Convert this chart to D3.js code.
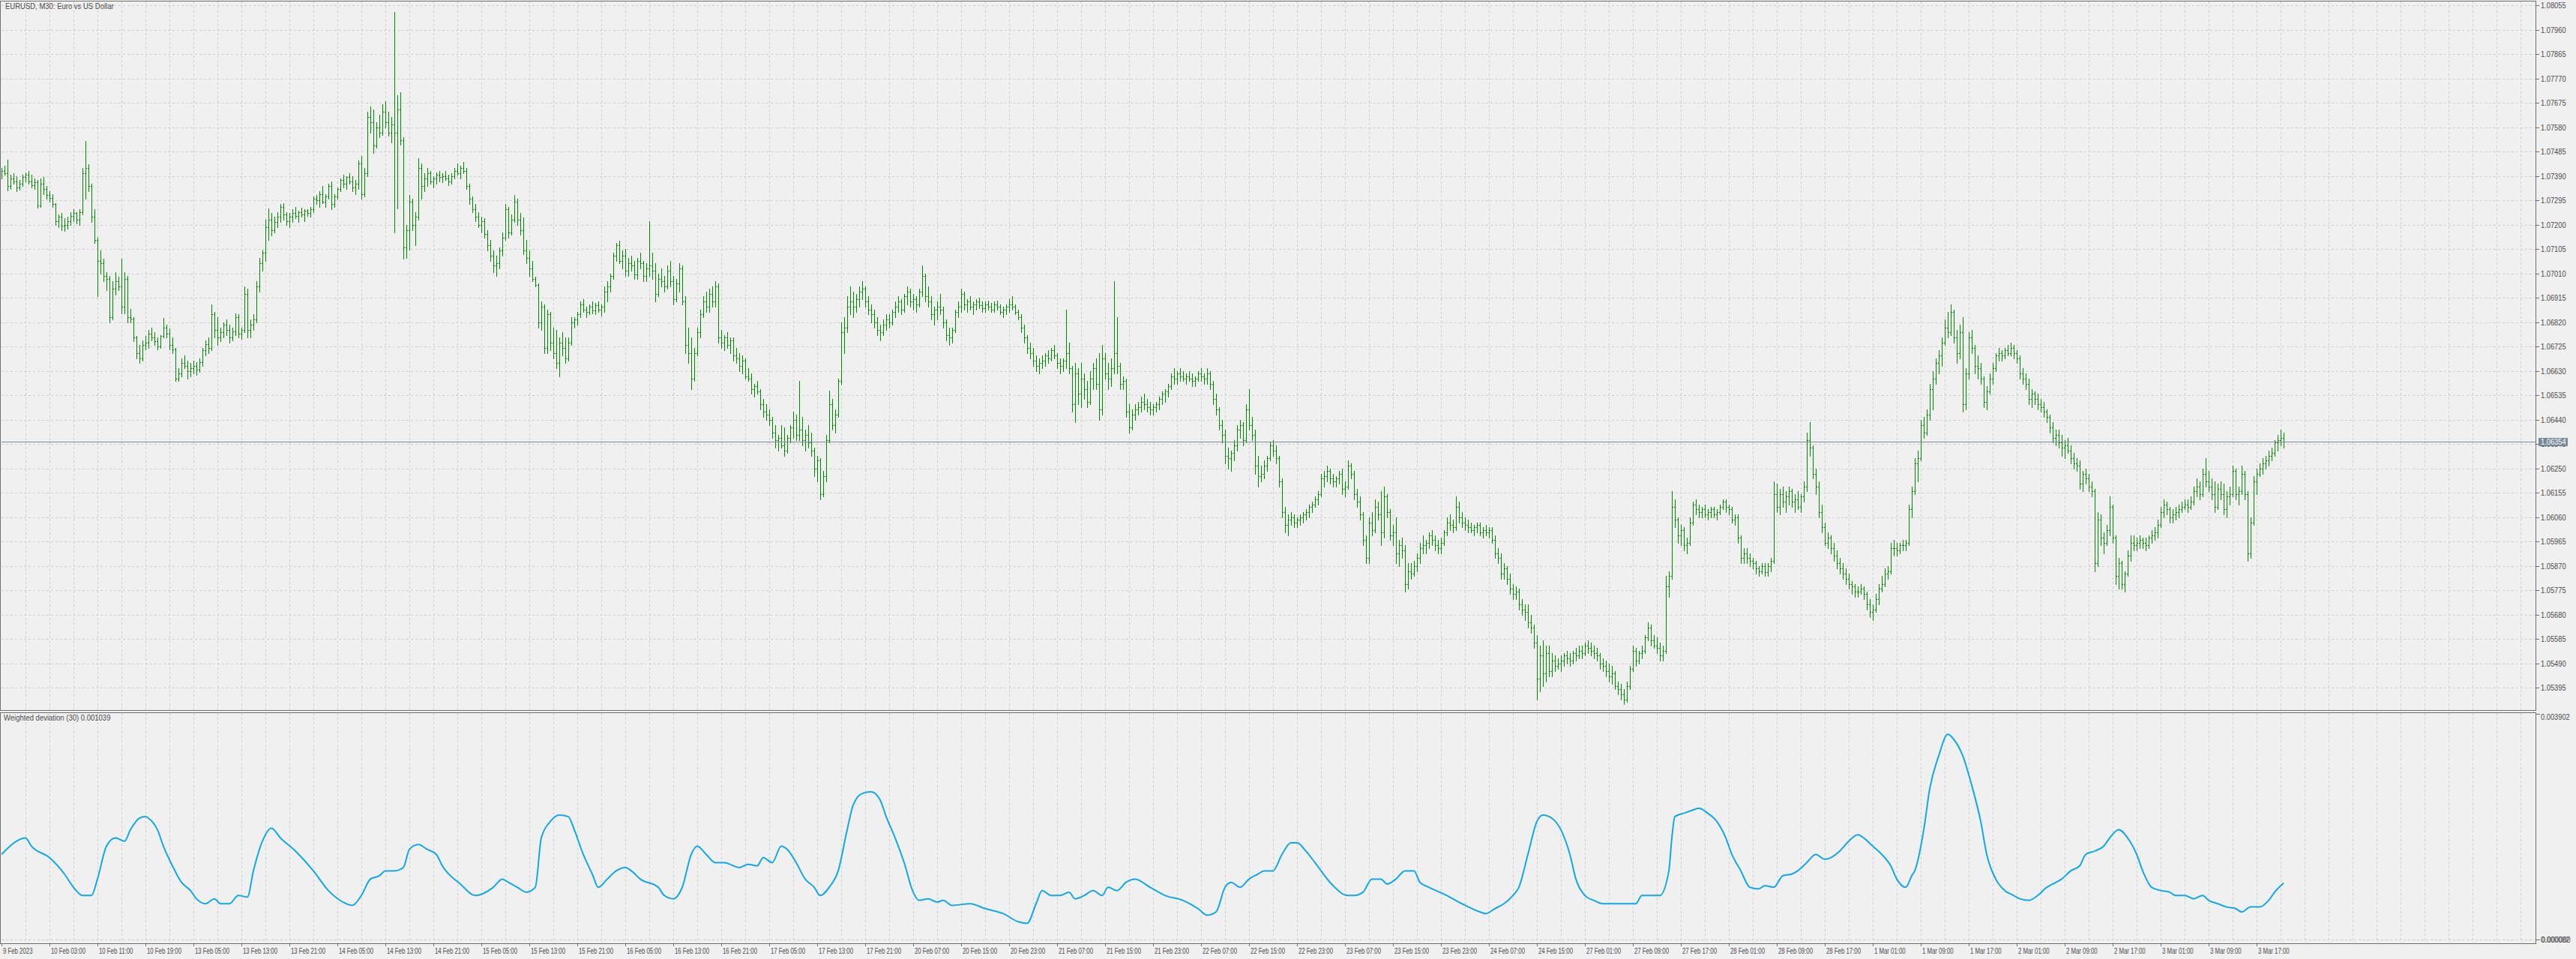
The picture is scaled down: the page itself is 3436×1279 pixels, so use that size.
<!DOCTYPE html>
<html><head><meta charset="utf-8">
<script src="https://cdn.jsdelivr.net/npm/d3@7"></script>
<style>html,body{margin:0;padding:0;background:#f0f0f0;overflow:hidden}svg{display:block}text{font-family:"Liberation Sans",Arial,sans-serif}</style>
</head><body>
<svg id="c" width="3436" height="1279"></svg>
<script>
// ---- DATA (prices in points: 1 + v/100000) ----
const chartTitle = "EURUSD, M30:  Euro vs US Dollar";
const indicatorTitle = "Weighted deviation (30) 0.001039";
const lastPrice = 1.06354;
const opens = [7395,
7410,7400,7350,7380,7370,7345,7360,7385,7395,7370,7355,7365,7275,7360,7340,7315,7305,7280,7215,7230,
7195,7200,7215,7235,7245,7220,7250,7400,7420,7350,7230,7140,7060,7050,7000,6990,6840,6950,6980,6960,
6880,6990,6840,6835,6760,6700,6680,6730,6740,6775,6760,6745,6725,6765,6800,6775,6730,6715,6600,6620,
6660,6650,6630,6640,6650,6635,6665,6710,6735,6720,6850,6790,6760,6780,6810,6790,6760,6785,6840,6775,
6790,6930,6790,6810,6830,6960,7050,7090,7190,7220,7180,7210,7230,7270,7240,7215,7230,7245,7235,7250,
7240,7255,7245,7260,7300,7295,7320,7290,7310,7350,7280,7310,7340,7375,7360,7385,7370,7345,7360,7440,
7320,7400,7620,7600,7510,7580,7560,7640,7600,7560,7590,7560,7650,7530,7110,7180,7290,7200,7230,7420,
7350,7380,7400,7370,7380,7395,7385,7390,7380,7370,7390,7410,7400,7420,7410,7350,7300,7260,7230,7200,
7215,7165,7120,7080,7040,7050,7100,7150,7260,7170,7220,7290,7220,7180,7100,7070,7030,6990,6965,6820,
6880,6720,6850,6740,6700,6660,6740,6720,6680,6740,6820,6830,6850,6890,6870,6860,6880,6865,6885,6870,
6880,6940,6960,7000,7080,7120,7060,7080,7020,7050,7040,7005,7060,7050,7000,7030,7040,7020,6930,6990,
6980,6960,7020,6980,6910,6970,7030,6900,6730,6700,6600,6700,6780,6850,6900,6880,6930,6900,6960,6760,
6740,6760,6730,6750,6690,6680,6650,6670,6610,6600,6560,6570,6550,6500,6470,6460,6440,6390,6360,6370,
6340,6320,6370,6410,6440,6380,6400,6360,6380,6350,6320,6250,6280,6150,6220,6360,6500,6420,6460,6590,
6780,6800,6880,6900,6880,6910,6940,6950,6900,6870,6850,6820,6790,6780,6810,6830,6820,6860,6880,6900,
6870,6920,6940,6900,6910,6890,6940,7000,6920,6900,6850,6870,6880,6870,6820,6770,6760,6790,6860,6880,
6930,6890,6900,6880,6890,6900,6885,6875,6890,6880,6870,6890,6880,6860,6870,6880,6890,6880,6860,6840,
6800,6760,6720,6700,6670,6650,6660,6670,6690,6680,6710,6690,6660,6650,6670,6700,6640,6500,6620,6540,
6600,6560,6510,6600,6640,6580,6480,6680,6620,6600,6640,6700,6650,6580,6590,6470,6410,6460,6480,6490,
6510,6500,6490,6480,6490,6500,6520,6540,6550,6570,6610,6600,6620,6610,6600,6610,6600,6590,6600,6620,
6610,6600,6620,6580,6520,6480,6420,6380,6300,6290,6310,6340,6400,6420,6360,6480,6420,6380,6260,6220,
6230,6260,6290,6340,6320,6290,6200,6080,6030,6050,6060,6040,6050,6060,6070,6080,6100,6110,6130,6150,
6210,6220,6240,6210,6200,6210,6230,6170,6180,6260,6230,6150,6120,6070,5970,5900,6040,6010,6100,6070,
6000,6140,6080,5990,6000,5920,5950,5930,5800,5850,5840,5870,5900,5940,5950,5960,5990,5970,5950,5940,
5960,6000,6040,6030,6020,6100,6060,6040,6030,6020,6010,6020,6030,6000,6010,6000,6010,5970,5920,5900,
5840,5860,5820,5780,5760,5770,5720,5700,5690,5650,5630,5570,5430,5520,5450,5530,5460,5500,5480,5490,
5500,5520,5510,5500,5530,5520,5540,5530,5560,5550,5540,5530,5520,5490,5480,5460,5440,5450,5400,5390,
5370,5350,5400,5470,5540,5500,5530,5540,5590,5630,5580,5560,5550,5520,5540,5790,5830,6100,6050,5990,
6010,5950,5960,6040,6110,6090,6080,6090,6070,6080,6090,6070,6080,6100,6120,6100,6090,6050,6060,5980,
5900,5920,5900,5890,5880,5860,5850,5870,5845,5870,5890,6150,6100,6150,6120,6140,6160,6120,6130,6100,
6140,6180,6360,6330,6230,6180,6080,6020,5960,5980,5940,5910,5880,5860,5840,5820,5800,5790,5770,5770,
5780,5760,5720,5690,5700,5740,5780,5800,5840,5850,5940,5940,5930,5950,5950,5960,6090,6160,6270,6290,
6420,6390,6460,6560,6600,6660,6690,6740,6800,6780,6860,6760,6700,6780,6500,6620,6760,6720,6650,6640,
6600,6510,6550,6600,6640,6690,6700,6690,6710,6700,6720,6700,6680,6620,6600,6580,6520,6540,6520,6500,
6490,6470,6450,6410,6370,6380,6350,6330,6340,6320,6290,6270,6260,6190,6230,6210,6180,6160,5880,6050,
5980,5960,6010,6100,5980,5830,5880,5800,5840,5910,5960,5950,5960,5970,5960,5950,5980,5990,6000,6030,
6080,6110,6090,6060,6070,6080,6090,6100,6110,6100,6120,6160,6180,6150,6230,6200,6180,6150,6100,6170,
6150,6090,6140,6150,6240,6150,6160,6230,6150,5920,6040,6200,6230,6250,6270,6280,6300,6310,6350,6360,
6370];
const highs = [
7420,7430,7454,7395,7400,7390,7375,7395,7405,7410,7395,7380,7375,7380,7385,7350,7330,7320,7285,7240,
7245,7225,7230,7250,7260,7250,7260,7420,7525,7435,7360,7260,7150,7100,7068,7015,7000,6980,7015,6997,
7068,7015,7000,6873,6840,6767,6731,6749,6767,6790,6800,6780,6760,6770,6838,6810,6795,6760,6720,6640,
6680,6690,6670,6660,6670,6665,6680,6720,6750,6760,6890,6860,6840,6800,6820,6830,6810,6800,6855,6850,
6800,6960,6950,6830,6850,6980,7070,7100,7220,7263,7245,7230,7250,7280,7285,7250,7245,7260,7270,7255,
7265,7260,7260,7270,7310,7315,7330,7350,7320,7360,7370,7320,7345,7380,7395,7390,7400,7390,7375,7450,
7467,7420,7640,7661,7650,7600,7630,7670,7680,7640,7620,8030,7706,7715,7540,7200,7316,7300,7250,7458,
7440,7400,7420,7410,7390,7405,7410,7400,7410,7395,7400,7420,7440,7430,7445,7420,7360,7310,7280,7250,
7230,7225,7180,7140,7100,7080,7110,7170,7281,7270,7240,7316,7300,7245,7227,7140,7100,7060,6997,6970,
6900,6890,6870,6860,6800,6790,6760,6780,6760,6760,6840,6840,6860,6900,6910,6880,6890,6900,6895,6900,
6890,6960,6980,7010,7090,7130,7139,7100,7105,7070,7080,7060,7070,7090,7060,7050,7215,7090,7050,7010,
7030,7000,7040,7060,7000,6990,7050,7040,6920,6800,6760,6720,6800,6870,6920,6940,6950,6960,6980,6970,
6790,6770,6780,6760,6760,6720,6700,6690,6680,6640,6620,6580,6590,6560,6520,6500,6480,6450,6420,6380,
6420,6410,6380,6420,6470,6460,6590,6450,6400,6420,6390,6330,6300,6290,6240,6380,6554,6520,6480,6600,
6820,6840,6920,6960,6940,6930,6960,6980,6960,6920,6890,6870,6840,6810,6830,6850,6850,6870,6900,6920,
6910,6930,6960,6950,6930,6920,6950,7040,7010,6960,6920,6880,6900,6930,6880,6830,6800,6800,6870,6900,
6950,6940,6910,6920,6900,6910,6915,6900,6900,6905,6895,6900,6905,6890,6880,6890,6910,6920,6890,6870,
6850,6810,6770,6740,6720,6690,6680,6690,6700,6710,6720,6730,6700,6680,6680,6870,6740,6650,6660,6640,
6660,6620,6590,6630,6660,6680,6700,6730,6700,6660,6680,6980,6840,6660,6610,6600,6500,6480,6500,6510,
6530,6540,6520,6510,6500,6510,6530,6550,6560,6580,6620,6640,6630,6640,6630,6620,6630,6620,6610,6630,
6640,6620,6640,6630,6590,6540,6490,6440,6400,6330,6320,6360,6420,6440,6430,6500,6560,6450,6400,6300,
6260,6280,6300,6350,6360,6340,6300,6210,6100,6070,6080,6070,6060,6070,6080,6090,6110,6120,6140,6160,
6230,6240,6260,6250,6230,6220,6240,6250,6200,6280,6270,6240,6170,6140,6080,5990,6060,6080,6130,6120,
6160,6180,6150,6090,6030,6060,5970,5980,5950,5880,5880,5890,5920,5960,5990,5970,6000,6010,5990,5970,
5980,6010,6060,6070,6050,6140,6120,6080,6060,6050,6040,6030,6040,6040,6020,6030,6020,6020,5990,5940,
5920,5880,5870,5840,5800,5790,5780,5740,5720,5720,5680,5640,5600,5560,5580,5560,5560,5530,5520,5510,
5520,5530,5540,5530,5540,5550,5560,5560,5570,5580,5570,5560,5550,5530,5510,5500,5490,5480,5460,5420,
5410,5390,5420,5480,5560,5550,5540,5560,5600,5650,5640,5600,5590,5570,5560,5830,5850,6160,6130,6060,
6030,6020,5980,6060,6120,6130,6110,6100,6110,6090,6100,6100,6090,6110,6130,6130,6110,6100,6070,6070,
5990,5940,5940,5920,5900,5890,5870,5880,5880,5880,5900,6200,6190,6170,6180,6160,6180,6170,6150,6160,
6150,6200,6390,6430,6340,6250,6200,6110,6040,6000,5990,5960,5930,5900,5880,5860,5840,5810,5800,5790,
5800,5790,5770,5740,5720,5760,5800,5830,5860,5870,5960,5970,5960,5960,5970,5970,6110,6180,6290,6320,
6440,6450,6480,6580,6630,6680,6710,6760,6830,6860,6890,6870,6790,6810,6840,6640,6780,6790,6730,6690,
6660,6610,6570,6620,6660,6700,6720,6710,6720,6730,6740,6730,6710,6690,6640,6620,6600,6560,6550,6540,
6520,6510,6480,6460,6430,6400,6400,6380,6360,6370,6340,6310,6290,6280,6240,6250,6230,6200,6170,6080,
6070,6000,6030,6140,6110,5990,5900,5890,5850,5930,5990,5990,5980,5990,5980,5980,5990,6010,6020,6050,
6100,6130,6120,6100,6090,6100,6110,6120,6130,6130,6140,6180,6210,6200,6250,6290,6240,6210,6200,6190,
6200,6190,6160,6180,6260,6250,6180,6260,6240,6160,6060,6220,6250,6270,6290,6300,6320,6330,6360,6380,
6400,6390];
const lows = [
7380,7395,7334,7340,7360,7330,7335,7350,7370,7360,7345,7340,7265,7270,7320,7300,7290,7270,7200,7190,
7180,7175,7185,7200,7215,7205,7200,7240,7300,7330,7210,7130,6920,7010,6980,6944,6820,6830,6926,6944,
6855,6855,6820,6820,6745,6678,6660,6670,6714,6720,6750,6730,6715,6720,6760,6760,6714,6700,6590,6590,
6610,6640,6600,6610,6620,6615,6625,6650,6690,6700,6710,6760,6730,6745,6760,6770,6740,6750,6770,6760,
6755,6780,6760,6760,6790,6820,6940,7020,7060,7140,7157,7170,7190,7210,7220,7200,7190,7210,7225,7210,
7230,7215,7235,7230,7250,7280,7270,7285,7270,7300,7260,7270,7300,7330,7345,7340,7360,7330,7320,7340,
7300,7310,7390,7560,7480,7500,7540,7550,7580,7546,7520,7171,7263,7511,7068,7070,7103,7180,7120,7220,
7300,7330,7350,7360,7345,7360,7370,7365,7375,7355,7360,7380,7395,7380,7400,7340,7280,7250,7215,7190,
7170,7150,7100,7060,7015,7000,7030,7080,7140,7150,7160,7210,7200,7160,7086,7050,7000,6980,6960,6800,
6790,6700,6700,6710,6680,6640,6610,6690,6660,6670,6730,6800,6810,6840,6860,6840,6850,6855,6850,6860,
6845,6860,6900,6940,6990,7060,7050,7030,7000,7000,7020,6990,6990,7030,6980,6980,7000,6990,6900,6920,
6960,6940,6950,6960,6890,6900,6940,6890,6700,6660,6560,6590,6690,6760,6840,6860,6860,6880,6880,6740,
6720,6710,6720,6700,6670,6660,6630,6620,6600,6590,6540,6530,6540,6480,6450,6440,6420,6370,6330,6320,
6330,6300,6310,6350,6370,6360,6360,6340,6320,6330,6300,6220,6200,6129,6140,6200,6350,6400,6390,6450,
6580,6700,6780,6850,6840,6860,6880,6910,6880,6850,6820,6800,6770,6750,6770,6790,6800,6810,6840,6860,
6850,6860,6890,6880,6870,6860,6880,6920,6900,6880,6830,6810,6830,6850,6800,6750,6730,6740,6780,6840,
6860,6870,6860,6870,6850,6870,6875,6860,6860,6870,6860,6860,6870,6850,6840,6850,6860,6870,6850,6830,
6780,6740,6700,6680,6650,6630,6620,6640,6650,6660,6670,6680,6640,6620,6630,6640,6620,6470,6430,6500,
6490,6520,6490,6500,6560,6560,6440,6460,6600,6560,6570,6620,6620,6560,6560,6450,6390,6400,6440,6460,
6470,6480,6470,6460,6460,6470,6480,6500,6510,6530,6560,6580,6580,6590,6590,6580,6590,6570,6570,6590,
6590,6580,6580,6560,6500,6460,6400,6350,6270,6250,6240,6280,6320,6370,6340,6350,6400,6360,6230,6180,
6200,6210,6240,6280,6300,6270,6180,6060,6000,5990,6030,6020,6020,6030,6040,6050,6060,6080,6100,6110,
6140,6180,6200,6190,6180,6180,6190,6150,6140,6170,6210,6130,6100,6050,5950,5880,5880,5990,6000,6050,
5950,5980,6060,5970,5950,5880,5870,5900,5770,5780,5820,5830,5850,5880,5920,5920,5940,5950,5930,5920,
5920,5950,5990,6010,6000,6010,6040,6020,6010,6000,6000,5990,6000,5990,5980,5990,5980,5960,5900,5880,
5820,5820,5800,5760,5740,5740,5700,5680,5660,5630,5610,5550,5350,5380,5400,5420,5440,5440,5460,5470,
5460,5480,5490,5480,5490,5500,5510,5510,5520,5530,5520,5510,5500,5470,5460,5440,5420,5410,5390,5370,
5350,5330,5340,5390,5460,5480,5490,5510,5530,5580,5560,5550,5530,5500,5500,5530,5750,5820,6020,5960,
5950,5930,5920,5950,6030,6070,6060,6060,6060,6050,6060,6060,6050,6070,6090,6080,6070,6040,6030,5960,
5880,5880,5880,5870,5860,5840,5830,5840,5830,5830,5850,5880,6080,6070,6100,6080,6110,6100,6080,6090,
6080,6120,6160,6300,6210,6150,6060,6000,5950,5940,5920,5890,5860,5840,5820,5800,5780,5760,5750,5750,
5760,5740,5700,5670,5660,5690,5720,5770,5790,5820,5840,5910,5910,5920,5930,5930,5950,6060,6150,6200,
6280,6370,6380,6440,6480,6580,6620,6650,6730,6760,6770,6740,6660,6680,6470,6480,6600,6700,6620,6600,
6580,6490,6480,6540,6580,6630,6670,6670,6680,6690,6690,6680,6660,6600,6580,6560,6500,6490,6500,6480,
6470,6450,6430,6390,6350,6340,6330,6300,6290,6310,6270,6250,6240,6170,6160,6190,6160,6140,5850,5870,
5950,5920,5950,5990,5960,5800,5780,5780,5770,5830,5890,5930,5930,5940,5940,5930,5940,5960,5970,5980,
6020,6060,6070,6040,6040,6050,6060,6080,6090,6080,6090,6110,6140,6130,6140,6180,6160,6130,6080,6090,
6130,6070,6060,6110,6140,6130,6110,6150,6130,5890,5900,6030,6150,6220,6230,6250,6260,6280,6300,6320,
6340,6330];
const closes = [
7410,7400,7350,7380,7370,7345,7360,7385,7395,7370,7355,7365,7275,7360,7340,7315,7305,7280,7215,7230,
7195,7200,7215,7235,7245,7220,7250,7400,7420,7350,7230,7140,7060,7050,7000,6990,6840,6950,6980,6960,
6880,6990,6840,6835,6760,6700,6680,6730,6740,6775,6760,6745,6725,6765,6800,6775,6730,6715,6600,6620,
6660,6650,6630,6640,6650,6635,6665,6710,6735,6720,6850,6790,6760,6780,6810,6790,6760,6785,6840,6775,
6790,6930,6790,6810,6830,6960,7050,7090,7190,7220,7180,7210,7230,7270,7240,7215,7230,7245,7235,7250,
7240,7255,7245,7260,7300,7295,7320,7290,7310,7350,7280,7310,7340,7375,7360,7385,7370,7345,7360,7440,
7320,7400,7620,7600,7510,7580,7560,7640,7600,7560,7590,7560,7650,7530,7110,7180,7290,7200,7230,7420,
7350,7380,7400,7370,7380,7395,7385,7390,7380,7370,7390,7410,7400,7420,7410,7350,7300,7260,7230,7200,
7215,7165,7120,7080,7040,7050,7100,7150,7260,7170,7220,7290,7220,7180,7100,7070,7030,6990,6965,6820,
6880,6720,6850,6740,6700,6660,6740,6720,6680,6740,6820,6830,6850,6890,6870,6860,6880,6865,6885,6870,
6880,6940,6960,7000,7080,7120,7060,7080,7020,7050,7040,7005,7060,7050,7000,7030,7040,7020,6930,6990,
6980,6960,7020,6980,6910,6970,7030,6900,6730,6700,6600,6700,6780,6850,6900,6880,6930,6900,6960,6760,
6740,6760,6730,6750,6690,6680,6650,6670,6610,6600,6560,6570,6550,6500,6470,6460,6440,6390,6360,6370,
6340,6320,6370,6410,6440,6380,6400,6360,6380,6350,6320,6250,6280,6150,6220,6360,6500,6420,6460,6590,
6780,6800,6880,6900,6880,6910,6940,6950,6900,6870,6850,6820,6790,6780,6810,6830,6820,6860,6880,6900,
6870,6920,6940,6900,6910,6890,6940,7000,6920,6900,6850,6870,6880,6870,6820,6770,6760,6790,6860,6880,
6930,6890,6900,6880,6890,6900,6885,6875,6890,6880,6870,6890,6880,6860,6870,6880,6890,6880,6860,6840,
6800,6760,6720,6700,6670,6650,6660,6670,6690,6680,6710,6690,6660,6650,6670,6700,6640,6500,6620,6540,
6600,6560,6510,6600,6640,6580,6480,6680,6620,6600,6640,6700,6650,6580,6590,6470,6410,6460,6480,6490,
6510,6500,6490,6480,6490,6500,6520,6540,6550,6570,6610,6600,6620,6610,6600,6610,6600,6590,6600,6620,
6610,6600,6620,6580,6520,6480,6420,6380,6300,6290,6310,6340,6400,6420,6360,6480,6420,6380,6260,6220,
6230,6260,6290,6340,6320,6290,6200,6080,6030,6050,6060,6040,6050,6060,6070,6080,6100,6110,6130,6150,
6210,6220,6240,6210,6200,6210,6230,6170,6180,6260,6230,6150,6120,6070,5970,5900,6040,6010,6100,6070,
6000,6140,6080,5990,6000,5920,5950,5930,5800,5850,5840,5870,5900,5940,5950,5960,5990,5970,5950,5940,
5960,6000,6040,6030,6020,6100,6060,6040,6030,6020,6010,6020,6030,6000,6010,6000,6010,5970,5920,5900,
5840,5860,5820,5780,5760,5770,5720,5700,5690,5650,5630,5570,5430,5520,5450,5530,5460,5500,5480,5490,
5500,5520,5510,5500,5530,5520,5540,5530,5560,5550,5540,5530,5520,5490,5480,5460,5440,5450,5400,5390,
5370,5350,5400,5470,5540,5500,5530,5540,5590,5630,5580,5560,5550,5520,5540,5790,5830,6100,6050,5990,
6010,5950,5960,6040,6110,6090,6080,6090,6070,6080,6090,6070,6080,6100,6120,6100,6090,6050,6060,5980,
5900,5920,5900,5890,5880,5860,5850,5870,5845,5870,5890,6150,6100,6150,6120,6140,6160,6120,6130,6100,
6140,6180,6360,6330,6230,6180,6080,6020,5960,5980,5940,5910,5880,5860,5840,5820,5800,5790,5770,5770,
5780,5760,5720,5690,5700,5740,5780,5800,5840,5850,5940,5940,5930,5950,5950,5960,6090,6160,6270,6290,
6420,6390,6460,6560,6600,6660,6690,6740,6800,6780,6860,6760,6700,6780,6500,6620,6760,6720,6650,6640,
6600,6510,6550,6600,6640,6690,6700,6690,6710,6700,6720,6700,6680,6620,6600,6580,6520,6540,6520,6500,
6490,6470,6450,6410,6370,6380,6350,6330,6340,6320,6290,6270,6260,6190,6230,6210,6180,6160,5880,6050,
5980,5960,6010,6100,5980,5830,5880,5800,5840,5910,5960,5950,5960,5970,5960,5950,5980,5990,6000,6030,
6080,6110,6090,6060,6070,6080,6090,6100,6110,6100,6120,6160,6180,6150,6230,6200,6180,6150,6100,6170,
6150,6090,6140,6150,6240,6150,6160,6230,6150,5920,6040,6200,6230,6250,6270,6280,6300,6310,6350,6360,
6370,6354];
// indicator: Weighted deviation (30), bar index and value (in millionths)
const devBars = [0,5,8,10,16,21,24,27,30,32,35,38,41,43,46,48,49,52,54,57,60,63,65,68,71,73,76,79,82,84,87,90,93,98,104,109,115,117,120,123,126,128,131,134,136,139,142,145,147,153,158,164,167,169,172,175,178,180,183,186,189,191,194,197,199,202,205,208,210,213,219,221,224,227,230,232,235,238,241,246,249,252,254,257,260,262,265,268,271,273,276,279,282,284,287,290,293,295,298,301,304,306,309,312,314,317,323,328,334,339,342,345,347,350,353,356,358,361,364,367,369,372,375,378,383,388,394,399,402,405,408,410,413,416,419,421,424,427,430,432,435,438,443,449,451,454,457,460,462,465,468,471,473,476,482,487,493,495,498,501,504,506,509,512,514,517,520,523,525,528,531,534,539,545,547,553,556,557,558,561,564,566,569,572,575,577,580,583,586,588,591,594,597,599,602,605,608,610,613,616,619,621,624,627,630,632,635,637,638,641,643,646,649,651,654,657,660,662,665,668,671,673,676,679,682,684,687,690,693,695,698,701,703,706,709,712,714,717,720,723,725,728,731,734,736,739,742,745,747,750,753,756,758,761];
const devMicro = [1525,1748,1803,1664,1470,1192,969,830,830,1108,1664,1803,1748,1942,2137,2164,2137,1942,1664,1331,1053,914,775,691,775,691,691,830,802,1247,1748,1970,1803,1581,1247,914,691,663,830,1108,1164,1247,1247,1303,1609,1692,1609,1525,1331,1025,830,969,1108,1053,969,886,969,1803,2081,2192,2164,1942,1525,1192,969,1108,1247,1303,1247,1108,969,830,775,969,1525,1664,1525,1386,1386,1303,1358,1331,1470,1386,1664,1609,1386,1108,969,830,969,1247,1942,2359,2554,2582,2443,2164,1803,1386,886,747,775,719,747,663,691,608,524,386,358,691,914,830,830,886,775,830,914,830,969,914,1053,1108,969,830,747,608,497,552,969,1053,969,1108,1192,1247,1247,1525,1720,1720,1581,1386,1053,830,830,886,1108,1108,1025,1108,1247,1247,1053,969,830,691,552,524,608,691,830,969,1525,2081,2192,2137,1942,1525,1108,830,747,691,691,691,830,830,1247,1803,2164,2220,2276,2304,2220,2081,1803,1525,1247,969,941,997,969,1164,1192,1247,1386,1525,1442,1470,1581,1748,1859,1803,1664,1525,1331,1108,969,1164,1247,1942,2637,3193,3555,3471,3193,2693,2081,1525,1108,914,830,775,747,830,969,1025,1108,1247,1331,1525,1581,1664,1803,1942,1803,1525,1247,969,914,886,830,830,775,830,747,691,636,608,552,636,636,747,886,1039];
const devMax = 0.003902, devMin = 0.000082;
const priceTicks = ["1.08055","1.07960","1.07865","1.07770","1.07675","1.07580","1.07485","1.07390","1.07295","1.07200","1.07105","1.07010","1.06915","1.06820","1.06725","1.06630","1.06535","1.06440","1.06345","1.06250","1.06155","1.06060","1.05965","1.05870","1.05775","1.05680","1.05585","1.05490","1.05395"];
const timeLabels = ["9 Feb 2023","10 Feb 03:00","10 Feb 11:00","10 Feb 19:00","13 Feb 05:00","13 Feb 13:00","13 Feb 21:00","14 Feb 05:00","14 Feb 13:00","14 Feb 21:00","15 Feb 05:00","15 Feb 13:00","15 Feb 21:00","16 Feb 05:00","16 Feb 13:00","16 Feb 21:00","17 Feb 05:00","17 Feb 13:00","17 Feb 21:00","20 Feb 07:00","20 Feb 15:00","20 Feb 23:00","21 Feb 07:00","21 Feb 15:00","21 Feb 23:00","22 Feb 07:00","22 Feb 15:00","22 Feb 23:00","23 Feb 07:00","23 Feb 15:00","23 Feb 23:00","24 Feb 07:00","24 Feb 15:00","27 Feb 01:00","27 Feb 09:00","27 Feb 17:00","28 Feb 01:00","28 Feb 09:00","28 Feb 17:00","1 Mar 01:00","1 Mar 09:00","1 Mar 17:00","2 Mar 01:00","2 Mar 09:00","2 Mar 17:00","3 Mar 01:00","3 Mar 09:00","3 Mar 17:00"];
const barsPerLabel = 16, barsPerGrid = 8;

// ---- LAYOUT ----
const PL = 2, PR = 3383, mainTop = 2, mainBot = 947, indTop = 951, indBot = 1258;
const BG = "#f0f0f0", FRAME = "#6e6e6e", GRID = "#cdcdcd", TXT = "#4c4c4c", BAR = "#008a00";
const svg = d3.select("#c");
svg.append("rect").attr("width", 3436).attr("height", 1279).attr("fill", BG);
const defs = svg.append("defs");
defs.append("clipPath").attr("id", "cm").append("rect").attr("x", PL).attr("y", mainTop).attr("width", PR - PL).attr("height", mainBot - mainTop);
defs.append("clipPath").attr("id", "ci").append("rect").attr("x", PL).attr("y", indTop).attr("width", PR - PL).attr("height", indBot - indTop);

const n = closes.length;
const pv = v => 1 + v / 100000;
const x = d3.scaleLinear().domain([0, n - 1]).range([2, 2 + 4 * (n - 1)]);
const yM = d3.scaleLinear().domain([1.05305, 1.08068]).range([948, 2.7]);
const yI = d3.scaleLinear().domain([devMin, devMax]).range([1253.3, 952]);
const px = v => Math.round(v) + 0.5;

// grid
const gGrid = svg.append("g").attr("stroke", GRID).attr("stroke-width", 1).attr("stroke-dasharray", "3,3").attr("shape-rendering", "crispEdges").attr("fill", "none");
const gridBars = d3.range(0, n + 200, barsPerGrid).filter(i => x(i) < PR - 2 && x(i) > PL + 1);
gGrid.append("g").attr("clip-path", "url(#cm)").selectAll("line.v").data(gridBars).join("line")
  .attr("x1", d => px(x(d))).attr("x2", d => px(x(d))).attr("y1", mainTop).attr("y2", mainBot);
gGrid.append("g").attr("clip-path", "url(#cm)").selectAll("line.h").data(priceTicks).join("line")
  .attr("x1", PL).attr("x2", PR).attr("y1", d => px(yM(+d))).attr("y2", d => px(yM(+d)));
gGrid.append("g").attr("clip-path", "url(#ci)").selectAll("line.v").data(gridBars).join("line")
  .attr("x1", d => px(x(d))).attr("x2", d => px(x(d))).attr("y1", indTop).attr("y2", indBot);
gGrid.append("line").attr("x1", PL).attr("x2", PR).attr("y1", px(yI(devMin))).attr("y2", px(yI(devMin)));

// OHLC bars
const p = d3.path();
for (let i = 0; i < n; i++) {
  const X = Math.round(x(i));
  const yh = Math.round(yM(pv(highs[i]))), yl = Math.round(yM(pv(lows[i])));
  const yo = Math.round(yM(pv(opens[i]))), yc = Math.round(yM(pv(closes[i])));
  p.moveTo(X + 0.5, yh); p.lineTo(X + 0.5, yl + 1);
  p.moveTo(X - 1, yo + 0.5); p.lineTo(X, yo + 0.5);
  p.moveTo(X + 1, yc + 0.5); p.lineTo(X + 2, yc + 0.5);
}
svg.append("g").attr("clip-path", "url(#cm)").append("path").attr("d", p.toString())
  .attr("stroke", BAR).attr("stroke-width", 1).attr("fill", "none").attr("shape-rendering", "crispEdges");

// current price line
svg.append("line").attr("x1", PL).attr("x2", PR).attr("y1", px(yM(lastPrice))).attr("y2", px(yM(lastPrice)))
  .attr("stroke", "#778899").attr("stroke-width", 1).attr("shape-rendering", "crispEdges");

// indicator line
const dev = devBars.map((b, k) => ({ b, v: devMicro[k] / 1e6 }));
svg.append("g").attr("clip-path", "url(#ci)").append("path").datum(dev)
  .attr("d", d3.line().x(d => x(d.b)).y(d => yI(d.v)).curve(d3.curveMonotoneX))
  .attr("fill", "none").attr("stroke", "#10a8e8").attr("stroke-width", 2);

// frames
const gF = svg.append("g").attr("fill", "none").attr("stroke", FRAME).attr("stroke-width", 1).attr("shape-rendering", "crispEdges");
gF.append("rect").attr("x", PL - 1.5).attr("y", mainTop - 0.5).attr("width", PR - PL + 1).attr("height", mainBot - mainTop + 1);
gF.append("rect").attr("x", PL - 1.5).attr("y", indTop - 0.5).attr("width", PR - PL + 1).attr("height", indBot - indTop + 1);

// text helpers
function fitText(sel, factor) {
  sel.each(function () { const w = this.getComputedTextLength(); d3.select(this).attr("textLength", w * factor).attr("lengthAdjust", "spacingAndGlyphs"); });
}
const FS = 10;

// right price axis
const gA = svg.append("g");
gA.selectAll("line").data(priceTicks).join("line")
  .attr("x1", PR).attr("x2", PR + 4).attr("y1", d => px(yM(+d))).attr("y2", d => px(yM(+d)))
  .attr("stroke", FRAME).attr("shape-rendering", "crispEdges");
gA.selectAll("text").data(priceTicks).join("text")
  .attr("x", PR + 6).attr("y", d => Math.round(yM(+d)) + 4).attr("font-size", FS).attr("fill", TXT).text(d => d)
  .call(fitText, 0.93);

// last price label
const ly = Math.round(yM(lastPrice));
svg.append("rect").attr("x", PR + 3).attr("y", ly - 5).attr("width", 39).attr("height", 11).attr("fill", "#778899");
svg.append("text").attr("x", PR + 6).attr("y", ly + 4).attr("font-size", FS).attr("fill", "#ffffff").text(lastPrice.toFixed(5)).call(fitText, 0.93);

// indicator axis labels
svg.append("line").attr("x1", PR).attr("x2", PR + 5).attr("y1", 952.5).attr("y2", 952.5).attr("stroke", FRAME).attr("shape-rendering", "crispEdges");
svg.append("text").attr("x", PR + 6).attr("y", 960).attr("font-size", FS).attr("fill", TXT).text(devMax.toFixed(6)).call(fitText, 0.93);
svg.append("line").attr("x1", PR).attr("x2", PR + 5).attr("y1", px(yI(devMin))).attr("y2", px(yI(devMin))).attr("stroke", FRAME).attr("shape-rendering", "crispEdges");
svg.append("text").attr("x", PR + 6).attr("y", Math.round(yI(devMin)) + 4).attr("font-size", FS).attr("fill", TXT).text(devMin.toFixed(6)).call(fitText, 0.93);
svg.append("text").attr("x", PR + 7).attr("y", Math.round(yI(devMin)) + 4).attr("font-size", FS).attr("fill", TXT).attr("opacity", 0.8).text((0).toFixed(6)).call(fitText, 0.93);

// time axis
const gT = svg.append("g");
const tIdx = timeLabels.map((t, k) => ({ t, b: k * barsPerLabel }));
gT.selectAll("line").data(tIdx).join("line")
  .attr("x1", d => px(x(d.b))).attr("x2", d => px(x(d.b))).attr("y1", indBot).attr("y2", indBot + 4)
  .attr("stroke", FRAME).attr("shape-rendering", "crispEdges");
gT.selectAll("text").data(tIdx).join("text")
  .attr("x", d => Math.round(x(d.b)) + 2).attr("y", 1272).attr("font-size", FS).attr("fill", TXT).text(d => d.t)
  .call(fitText, 0.78);

// titles
svg.append("text").attr("x", 7).attr("y", 12).attr("font-size", FS).attr("fill", TXT).text(chartTitle).call(fitText, 0.95);
svg.append("text").attr("x", 5).attr("y", 961).attr("font-size", FS).attr("fill", TXT).text(indicatorTitle).call(fitText, 0.95);
</script>
</body></html>
